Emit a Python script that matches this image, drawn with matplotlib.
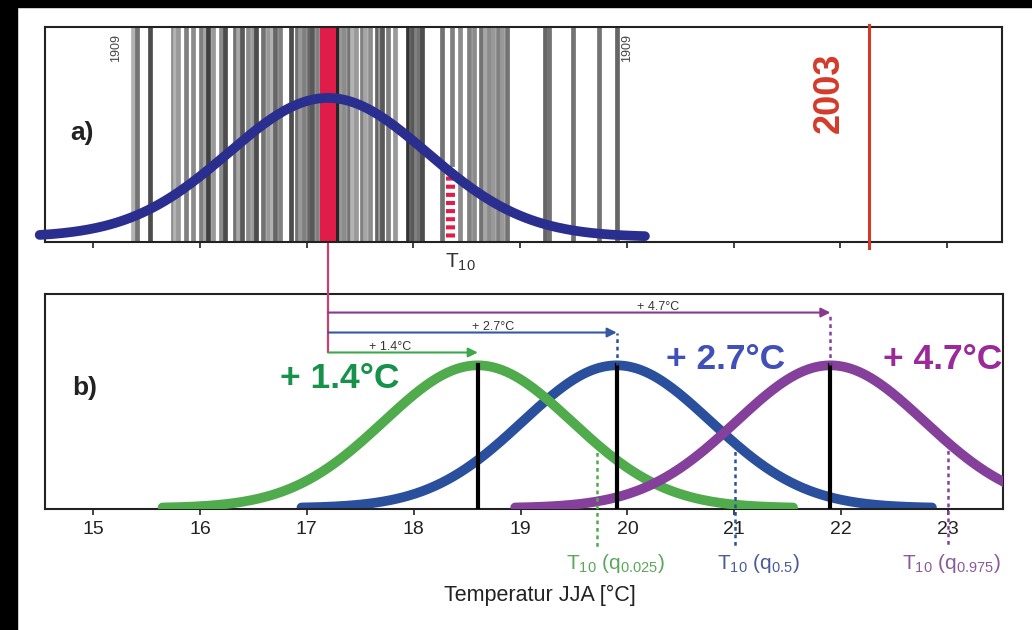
import numpy as np
import matplotlib.pyplot as plt
from matplotlib.patches import Rectangle

plt.rcParams['font.family'] = ['Liberation Sans', 'DejaVu Sans']
plt.rcParams['mathtext.fontset'] = 'custom'
plt.rcParams['mathtext.rm'] = 'Liberation Sans'

# summer (JJA) temperatures of the single years, read off panel a)
year_temps = [15.37, 15.41, 15.53, 15.75, 15.77, 15.80, 15.87, 15.94, 16.01, 16.05,
              16.08, 16.12, 16.20, 16.24, 16.33, 16.36, 16.40, 16.45, 16.50, 16.53,
              16.59, 16.64, 16.68, 16.70, 16.75, 16.85, 16.91, 16.94, 16.98, 17.02,
              17.05, 17.10, 17.29, 17.32, 17.35, 17.40, 17.43, 17.46, 17.52, 17.55,
              17.59, 17.66, 17.69, 17.71, 17.76, 17.83, 17.95, 17.98, 18.00, 18.03,
              18.05, 18.08, 18.27, 18.36, 18.44, 18.52, 18.57, 18.63, 18.67, 18.71,
              18.75, 18.79, 18.83, 18.88, 19.23, 19.27, 19.50, 19.74, 19.91]
year_shade = [0.7, 0.45, 0.3, 0.55, 0.7, 0.6, 0.5, 0.55, 0.5, 0.65,
              0.25, 0.6, 0.55, 0.3, 0.45, 0.65, 0.35, 0.55, 0.6, 0.3,
              0.45, 0.6, 0.7, 0.4, 0.5, 0.3, 0.45, 0.6, 0.5, 0.4,
              0.35, 0.5, 0.15, 0.6, 0.55, 0.45, 0.7, 0.6, 0.5, 0.65,
              0.55, 0.4, 0.6, 0.35, 0.5, 0.6, 0.2, 0.4, 0.35, 0.5,
              0.45, 0.3, 0.45, 0.5, 0.55, 0.5, 0.55, 0.45, 0.65, 0.55,
              0.6, 0.5, 0.6, 0.45, 0.4, 0.45, 0.45, 0.45, 0.4]

mean_ref = 17.2
sd_ref = 0.93
t10_ref = 18.34
t2003 = 22.27

shifts = [1.4, 2.7, 4.7]
sd_future = 0.88
shift_labels = ['+ 1.4°C', '+ 2.7°C', '+ 4.7°C']
t10_quant = [19.72, 21.01, 23.0]
quant_labels = ['T$_{10}$ (q$_{0.025}$)', 'T$_{10}$ (q$_{0.5}$)', 'T$_{10}$ (q$_{0.975}$)']
ticks = [15, 16, 17, 18, 19, 20, 21, 22, 23]


def bump(x, m, s):
    return np.exp(-0.5 * ((x - m) / s) ** 2)


curve_cols = ['#4fab4c', '#2a4f9c', '#84409a']
arrow_cols = ['#3da84a', '#3558a3', '#8a3a8a']
big_cols = ['#17924a', '#4050b8', '#9a2a9a']
quant_cols = ['#5aa85a', '#4a5a9a', '#8a5a9a']

fig = plt.figure(figsize=(10.32, 6.3), dpi=100, facecolor='white')
fig.patches.append(Rectangle((0, 0), 17 / 1032, 1, transform=fig.transFigure, color='black', zorder=-5))
fig.patches.append(Rectangle((0, 623 / 630), 1, 7 / 630, transform=fig.transFigure, color='black', zorder=-5))

axa = fig.add_axes([45 / 1032, 388 / 630, 957 / 1032, 215 / 630])
axb = fig.add_axes([45 / 1032, 121 / 630, 958 / 1032, 215 / 630])

for ax in (axa, axb):
    ax.set_xlim(14.55, 23.515)
    ax.set_xticks(ticks)
    ax.set_yticks([])
    for sp in ax.spines.values():
        sp.set_linewidth(1.5)
        sp.set_color('#222222')
    ax.tick_params(axis='x', direction='out', length=4, width=1.3, color='#333333')

# ---- panel a)
axa.set_ylim(-0.036, 1.51)
axa.tick_params(axis='x', labelbottom=False)
for t, g in zip(year_temps, year_shade):
    axa.axvline(t, color=str(g), lw=3.4, zorder=1)
axa.axvspan(mean_ref - 0.075, mean_ref + 0.075, color='#e01c48', lw=0, zorder=2)
top10 = bump(t10_ref, mean_ref, sd_ref)
axa.plot([t10_ref, t10_ref], [0, top10], color='white', lw=6.5, zorder=2)
axa.plot([t10_ref, t10_ref], [0, top10], color='#e01c48', lw=6.5, ls=(0, (0.45, 0.45)), zorder=3)
xa = np.linspace(mean_ref - 2.7, mean_ref + 2.97, 300)
axa.plot(xa, bump(xa, mean_ref, sd_ref), color='#2a2f8f', lw=7, zorder=4, clip_on=False,
         solid_capstyle='round')
axa.plot([t2003, t2003], [-0.03, 1.01], transform=axa.get_xaxis_transform(), color='#d43a2a',
         lw=2.2, clip_on=False, zorder=5)
axa.text(21.895, 1.04, '2003', rotation=90, color='#d43a2a', fontsize=26, fontweight='bold',
         ha='center', va='center')
axa.text(14.9, 0.75, 'a)', fontsize=19, fontweight='bold', ha='center', va='center', color='#222222')
for xt in (15.215, 20.0):
    axa.text(xt, 1.36, '1909', rotation=90, fontsize=9, color='#444444', ha='center', va='center',
             zorder=6)
axa.text(18.44, -0.18, 'T$_{10}$', fontsize=15, color='#333333', ha='center', va='center',
         clip_on=False)

# ---- panel b)
axb.set_ylim(-0.007, 1.5)
axb.tick_params(axis='x', labelsize=14, labelcolor='#222222', pad=5)
arrow_y = [1.09, 1.23, 1.37]
small_x = [17.78, 18.74, 20.29]
big_pos = [(17.31, 0.91), (20.92, 1.04), (22.95, 1.04)]
zs = [3, 2, 4]
axb.plot([mean_ref, mean_ref], [arrow_y[0], 1.853], color='#c8406e', lw=1.6, clip_on=False, zorder=6)
for i, s in enumerate(shifts):
    m = mean_ref + s
    xb = np.linspace(m - 2.95, m + 2.95, 300)
    axb.plot(xb, bump(xb, m, sd_future), color=curve_cols[i], lw=7, zorder=zs[i],
             solid_capstyle='round')
    axb.plot([m, m], [0, 1], color='black', lw=3, zorder=5)
    axb.annotate('', xy=(m, arrow_y[i]), xytext=(mean_ref, arrow_y[i]),
                 arrowprops=dict(arrowstyle='-|>', color=arrow_cols[i], lw=1.5, mutation_scale=14,
                                 shrinkA=0, shrinkB=0), annotation_clip=False, zorder=6)
    if i > 0:
        axb.plot([m, m], [1.0, arrow_y[i]], color=curve_cols[i], lw=1.8, ls=(0, (1.5, 1.5)), zorder=5)
    axb.text(small_x[i], arrow_y[i] + 0.04, shift_labels[i], fontsize=9, color='#333333',
             ha='center', va='center')
    axb.text(big_pos[i][0], big_pos[i][1], shift_labels[i], fontsize=25.5, fontweight='bold',
             color=big_cols[i], ha='center', va='center', zorder=7)
    q = t10_quant[i]
    axb.plot([q, q], [bump(q, m, sd_future), -0.28], color=curve_cols[i], lw=1.8,
             ls=(0, (1.5, 1.5)), clip_on=False, zorder=6)
axb.text(14.92, 0.84, 'b)', fontsize=19, fontweight='bold', ha='center', va='center', color='#222222')

quant_x = [19.89, 21.23, 23.03]
for qx, lab, col in zip(quant_x, quant_labels, quant_cols):
    axb.text(qx, -0.39, lab, fontsize=15, color=col, ha='center', va='center', clip_on=False)

fig.text(540 / 1032, 35 / 630, 'Temperatur JJA [°C]', fontsize=15.5, color='#222222',
         ha='center', va='center')

fig.savefig('out.png', dpi=100, facecolor=fig.get_facecolor())
